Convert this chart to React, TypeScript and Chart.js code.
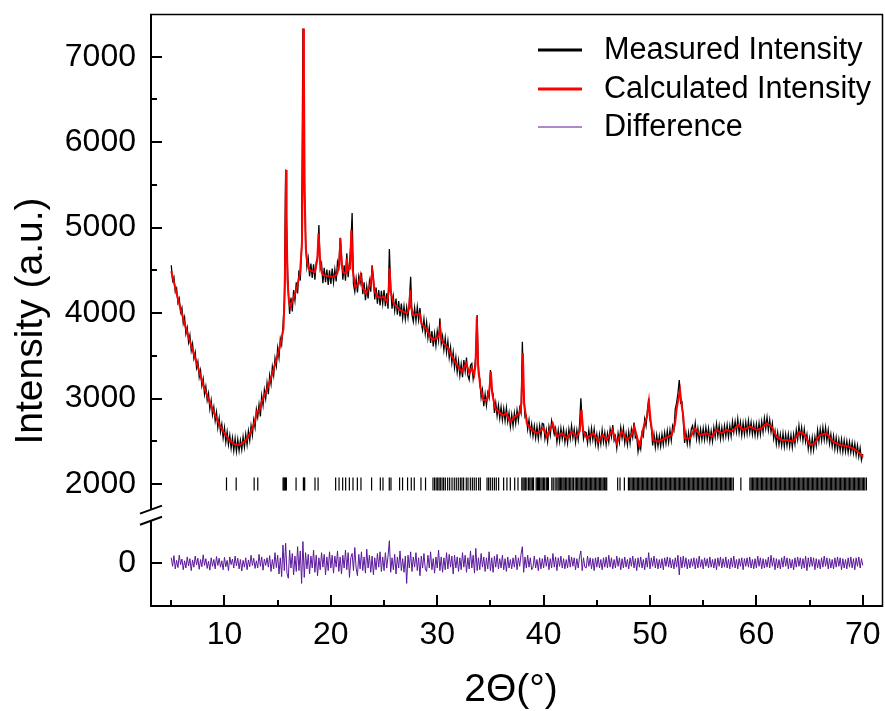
import React, { useEffect, useRef } from 'react';
import { Chart, registerables } from 'chart.js';

Chart.register(...registerables);

const FONT = '"Liberation Sans", Arial, Helvetica, sans-serif';

// ---- axis set-up (broken y axis: lower panel shows the difference curve, shifted) ----
const X_MIN = 3;
const X_MAX = 71.9;
const Y_MIN = 560;
const Y_MAX = 7500;
const DIFF_ZERO = 1076; // where "0" of the difference panel sits on the common y scale
const BREAK_UPPER = 1700; // upper axis segment ends here (data units)
const BREAK_LOWER = 1570; // lower axis segment starts here (data units)

const xMajorTicks = [10, 20, 30, 40, 50, 60, 70];
const xMinorTicks = [5, 15, 25, 35, 45, 55, 65];
const yMajorTicks = [2000, 3000, 4000, 5000, 6000, 7000];
const yMinorTicks = [2500, 3500, 4500, 5500, 6500];

const legendLabels = ['Measured Intensity', 'Calculated Intensity', 'Difference'];
const seriesColors = ['#000000', '#ff0000', '#5a189a'];

// ---- data ----
// measured intensity, sampled every 0.125 degrees from 5 degrees (one row per degree)
const MEAS_START = 5;
const MEAS_STEP = 0.125;
const measValues = [
  4560, 4380, 4420, 4250, 4290, 4120, 4170, 4010,
  4060, 3880, 3950, 3760, 3830, 3660, 3740, 3560,
  3640, 3470, 3540, 3360, 3430, 3250, 3330, 3150,
  3230, 3050, 3140, 2980, 3060, 2880, 2980, 2810,
  2900, 2740, 2840, 2660, 2770, 2610, 2700, 2540,
  2660, 2490, 2610, 2460, 2570, 2420, 2540, 2390,
  2530, 2380, 2520, 2390, 2510, 2400, 2550, 2430,
  2580, 2460, 2620, 2510, 2680, 2570, 2750, 2660,
  2870, 2780, 2930, 2790, 3030, 2920, 3100, 3000,
  3180, 3050, 3270, 3170, 3370, 3270, 3470, 3380,
  3590, 3480, 3700, 3630, 3850, 4150, 5680, 4750,
  4250, 3990, 4180, 4020, 4270, 4150, 4360, 4230,
  4500, 4380, 4780, 7330, 5600, 4830, 4540, 4640,
  4430, 4580, 4410, 4570, 4390, 4600, 4650, 5030,
  4520, 4580, 4350, 4530, 4360, 4510, 4330, 4500,
  4340, 4520, 4360, 4510, 4370, 4600, 4540, 4880,
  4680, 4390, 4560, 4380, 4700, 4420, 4590, 4800,
  5170, 4340, 4250, 4400, 4240, 4430, 4350, 4470,
  4220, 4360, 4150, 4310, 4170, 4370, 4250, 4560,
  4420, 4160, 4300, 4110, 4270, 4090, 4260, 4110,
  4270, 4080, 4230, 4050, 4750, 4300, 4050, 4190,
  4030, 4170, 3980, 4140, 3960, 4110, 3940, 4080,
  3930, 4070, 3950, 4120, 4425, 3980, 3900, 4060,
  3910, 4070, 3920, 4060, 3880, 3800, 3930, 3760,
  3890, 3710, 3830, 3650, 3790, 3610, 3760, 3620,
  3790, 3680, 3938, 3640, 3730, 3570, 3710, 3540,
  3670, 3480, 3600, 3420, 3540, 3360, 3480, 3310,
  3440, 3270, 3400, 3250, 3450, 3320, 3480, 3270,
  3220, 3390, 3410, 3230, 3340, 3500, 3977, 3280,
  3230, 3010, 3100, 2910, 3050, 2920, 3070, 3010,
  3333, 3080, 3060, 2830, 2950, 2800, 2920, 2770,
  2900, 2750, 2880, 2740, 2890, 2730, 2830, 2670,
  2810, 2680, 2830, 2710, 2860, 2740, 2890, 2830,
  3664, 3020, 2780, 2800, 2640, 2750, 2590, 2700,
  2560, 2680, 2540, 2670, 2530, 2680, 2560, 2710,
  2700, 2530, 2630, 2500, 2670, 2570, 2740, 2660,
  2580, 2650, 2490, 2630, 2500, 2650, 2530, 2640,
  2490, 2610, 2480, 2640, 2530, 2680, 2540, 2640,
  2490, 2630, 2520, 2690, 3002, 2720, 2530, 2610,
  2600, 2480, 2630, 2500, 2650, 2520, 2640, 2470,
  2580, 2440, 2580, 2470, 2630, 2490, 2600, 2460,
  2590, 2490, 2640, 2550, 2690, 2510, 2560, 2420,
  2590, 2490, 2660, 2540, 2650, 2480, 2590, 2460,
  2610, 2480, 2640, 2550, 2720, 2540, 2560, 2380,
  2480, 2410, 2600, 2560, 2760, 2680, 2860, 3002,
  2750, 2660, 2450, 2580, 2430, 2570, 2440, 2560,
  2440, 2580, 2460, 2600, 2480, 2620, 2490, 2630,
  2510, 2680, 2630, 2880, 2950, 3060, 3216, 2950,
  2960, 2740, 2480, 2600, 2470, 2600, 2470, 2640,
  2680, 2580, 2710, 2530, 2650, 2510, 2640, 2520,
  2650, 2520, 2660, 2530, 2650, 2500, 2620, 2500,
  2660, 2550, 2700, 2560, 2680, 2530, 2660, 2540,
  2680, 2560, 2690, 2550, 2680, 2560, 2730, 2610,
  2730, 2610, 2760, 2600, 2720, 2570, 2710, 2580,
  2720, 2590, 2740, 2600, 2720, 2580, 2700, 2570,
  2700, 2570, 2710, 2580, 2730, 2610, 2770, 2650,
  2780, 2630, 2750, 2610, 2710, 2530, 2620, 2470,
  2600, 2460, 2580, 2450, 2590, 2440, 2580, 2450,
  2580, 2440, 2570, 2430, 2580, 2470, 2630, 2520,
  2680, 2540, 2660, 2510, 2640, 2490, 2580, 2410,
  2530, 2390, 2540, 2400, 2550, 2450, 2630, 2500,
  2640, 2510, 2660, 2520, 2660, 2510, 2630, 2470,
  2580, 2440, 2560, 2410, 2540, 2400, 2520, 2390,
  2520, 2380, 2510, 2380, 2500, 2370, 2490, 2370,
  2480, 2360, 2470, 2340, 2450, 2320, 2420, 2280,
  2350,
];

const calculated: [number, number][] = [
  [5.0, 4490], [5.5, 4230], [6.0, 3990], [6.5, 3770], [7.0, 3570], [7.5, 3370], [8.0, 3160], [8.5, 2990],
  [9.0, 2840], [9.5, 2700], [10.0, 2590], [10.5, 2505], [11.0, 2460], [11.5, 2460], [12.0, 2510], [12.5, 2610],
  [12.85, 2730], [13.05, 2850], [13.25, 2850], [13.5, 2960], [14.0, 3110], [14.5, 3290], [15.0, 3510], [15.3, 3660],
  [15.55, 3820], [15.68, 4300], [15.75, 5200], [15.79, 5673], [15.84, 5100], [15.92, 4400], [16.05, 4150], [16.2, 4074],
  [16.5, 4180], [16.83, 4308], [17.1, 4464], [17.28, 4800], [17.36, 5600], [17.42, 7330], [17.47, 6800], [17.54, 5400],
  [17.65, 4750], [17.8, 4580], [18.0, 4503], [18.5, 4480], [18.72, 4620], [18.85, 4932], [18.98, 4620], [19.15, 4470],
  [19.3, 4444], [19.8, 4430], [20.26, 4425], [20.6, 4460], [20.78, 4560], [20.9, 4874], [21.02, 4560], [21.2, 4470],
  [21.4, 4464], [21.5, 4640], [21.6, 4500], [21.8, 4520], [21.93, 4971], [22.06, 4500], [22.3, 4308], [22.6, 4340],
  [22.8, 4444], [23.0, 4300], [23.3, 4230], [23.7, 4330], [23.9, 4483], [24.1, 4260], [24.4, 4190], [24.7, 4180],
  [24.96, 4191], [25.28, 4132], [25.44, 4250], [25.53, 4523], [25.63, 4250], [25.9, 4113], [26.5, 4035], [27.15, 3996],
  [27.36, 4060], [27.46, 4269], [27.56, 4060], [27.78, 3977], [28.1, 3985], [28.34, 3996], [28.56, 3860], [28.87, 3840],
  [29.34, 3723], [29.65, 3684], [30.05, 3720], [30.2, 3760], [30.28, 3821], [30.38, 3700], [30.6, 3645], [31.06, 3587],
  [31.22, 3528], [31.85, 3392], [32.32, 3313], [32.72, 3412], [33.04, 3294], [33.26, 3353], [33.47, 3275], [33.6, 3400],
  [33.72, 3957], [33.84, 3400], [34.04, 3138], [34.35, 2982], [34.67, 2982], [34.9, 3100], [35.04, 3313], [35.18, 3050],
  [35.45, 2885], [35.92, 2827], [36.2, 2800], [36.48, 2827], [36.85, 2729], [37.32, 2788], [37.73, 2827], [37.92, 2950],
  [38.05, 3528], [38.17, 2950], [38.42, 2710], [38.89, 2632], [39.36, 2593], [39.98, 2651], [40.3, 2553], [40.86, 2710],
  [41.24, 2553], [41.7, 2593], [42.18, 2535], [42.65, 2612], [43.1, 2553], [43.4, 2620], [43.56, 2866], [43.72, 2620],
  [44.06, 2535], [44.68, 2593], [45.15, 2495], [45.56, 2573], [45.93, 2515], [46.46, 2632], [46.87, 2475], [47.34, 2620],
  [47.81, 2515], [48.19, 2553], [48.53, 2670], [49.0, 2440], [49.44, 2690], [49.75, 2800], [49.9, 2963], [50.05, 2750],
  [50.31, 2515], [50.78, 2495], [51.41, 2535], [52.04, 2573], [52.35, 2700], [52.51, 2885], [52.82, 3099], [53.0, 2900],
  [53.13, 2788], [53.29, 2535], [53.76, 2535], [54.23, 2651], [54.7, 2573], [55.33, 2593], [55.8, 2553], [56.26, 2632],
  [56.73, 2593], [57.2, 2632], [57.67, 2612], [58.29, 2690], [58.76, 2632], [59.39, 2670], [60.02, 2632], [60.49, 2651],
  [60.96, 2710], [61.43, 2670], [61.9, 2553], [62.37, 2515], [62.84, 2515], [63.46, 2495], [64.08, 2612], [64.55, 2573],
  [65.02, 2456], [65.49, 2476], [65.96, 2573], [66.59, 2593], [67.21, 2495], [67.84, 2456], [68.47, 2444], [69.09, 2417],
  [69.56, 2378], [70.03, 2319],
];

// difference (measured - calculated), sampled every 0.125 degrees from 5 degrees (one row per degree)
const DIFF_START = 5;
const DIFF_STEP = 0.125;
const diffValues = [
  60, -40, 85, -70, 30, -55, 90, -20,
  45, -80, 25, -60, 70, -35, 50, -90,
  35, -50, 80, -25, 55, -75, 40, -45,
  95, -30, 50, -65, 20, -85, 60, -40,
  40, -70, 75, -30, 55, -50, 25, -80,
  65, -45, 30, -90, 70, -20, 45, -60,
  80, -35, 55, -70, 40, -95, 30, -50,
  60, -80, 35, -45, 90, -30, 55, -65,
  25, -60, 100, -40, 70, -85, 45, -30,
  60, -50, 85, -100, 40, -70, 120, -55,
  90, -130, 60, -160, 210, -90, 230, -120,
  -180, 150, -60, 110, -140, 80, -100, 190,
  -90, 140, -240, 250, -170, 120, -70, 100,
  -130, 80, -60, 150, -110, 90, -150, 60,
  -80, 120, -50, 100, -140, 70, -90, 130,
  -60, 90, -120, 80, -50, 140, -100, 70,
  -130, 90, -60, 150, -80, 120, -170, 60,
  110, -90, 180, -60, -150, 100, -70, 130,
  -90, 70, -120, 160, -60, 90, -110, 80,
  -140, 60, -80, 110, -50, 130, -100, 70,
  -90, 120, -60, 80, 260, -110, 60, -80,
  100, -130, 70, -60, 140, -90, 50, -110,
  80, -240, 90, -60, 130, -100, 70, -50,
  120, -90, 60, -150, 80, -60, 110, -70,
  -100, 90, -60, 130, -80, 50, -120, 70,
  -60, 150, -90, 70, -110, 60, -80, 120,
  -70, 100, -50, 80, -130, 90, -60, 70,
  -100, 60, -80, 120, -50, 90, -110, 60,
  -70, 140, -60, 90, -120, 170, -90, 60,
  -80, 110, -50, 70, -100, 60, -70, 130,
  -90, 60, -110, 80, -50, 100, -70, 50,
  -60, 90, -80, 50, -100, 70, -60, 40,
  -70, 60, -50, 90, -80, 60, -40, 100,
  190, -110, 70, -60, 90, -50, 60, -80,
  -50, 80, -60, 40, -90, 60, -70, 50,
  -60, 90, -40, 70, -80, 50, -60, 110,
  -50, 70, -90, 60, -40, 80, -60, 50,
  -70, 40, -60, 90, -50, 70, -40, 60,
  -80, 50, -60, 70, 140, -90, 60, -50,
  -60, 80, -40, 60, -70, 50, -90, 60,
  -50, 70, -60, 40, -80, 60, -50, 70,
  -60, 90, -50, 60, -70, 40, -60, 80,
  -40, 60, -80, 50, -60, 70, -50, 40,
  -70, 60, -40, 80, -60, 50, -90, 60,
  -50, 70, -60, 40, -80, 60, -50, 120,
  -70, 60, -40, 80, -60, 50, -70, 40,
  -60, 50, -80, 60, -40, 70, -50, 60,
  -60, 40, -70, 60, -50, 90, -140, 70,
  -60, 80, -50, 60, -70, 40, -60, 50,
  -40, 60, -70, 50, -60, 80, -50, 40,
  -70, 60, -40, 50, -60, 70, -50, 40,
  -60, 50, -80, 60, -40, 70, -60, 50,
  -50, 70, -60, 40, -70, 60, -50, 80,
  -60, 40, -70, 50, -40, 60, -80, 50,
  -40, 60, -50, 70, -60, 40, -70, 50,
  -60, 80, -40, 60, -70, 50, -60, 40,
  -50, 70, -60, 90, -40, 60, -80, 50,
  -60, 40, -70, 60, -50, 80, -40, 60,
  -70, 50, -60, 40, -80, 60, -50, 70,
  -40, 60, -70, 50, -60, 80, -90, 60,
  -50, 70, -40, 60, -80, 50, -60, 40,
  -70, 60, -50, 80, -40, 60, -70, 50,
  -60, 40, -70, 60, -50, 70, -40, 60,
  -80, 50, -60, 40, -70, 60, -50, 70,
  -60, 50, -80, 60, -40, 70, -60, 50,
  -30,
];

// Bragg reflection positions (2theta, degrees)
const BRAGG_LEVEL = 2000;
const braggPositions = [
  10.19, 11.1, 12.79, 13.13, 15.51, 15.58, 15.66, 15.74, 15.82, 16.73, 17.42, 17.48, 17.54, 18.51, 18.8,
  20.45, 20.77, 21.11, 21.39, 21.74, 22.08, 22.49, 22.83, 23.83, 24.65, 24.9, 25.49, 25.65, 26.46, 26.74,
  27.21, 27.56, 27.84, 28.47, 28.9,
  29.6, 29.75, 29.9, 30.04, 30.17, 30.29, 30.45, 30.6, 30.76, 30.98, 31.17, 31.39, 31.6, 31.79, 31.98,
  32.17, 32.32, 32.48, 32.73, 32.89, 33.11, 33.3, 33.48, 33.67, 33.89, 34.05,
  34.68, 34.83, 34.99, 35.18, 35.37, 35.55, 35.77,
  36.24, 36.55, 36.87, 37.28, 37.59,
  37.95, 38.06, 38.17, 38.28, 38.42, 38.58, 38.7, 38.82, 38.94, 39.05, 39.3, 39.42, 39.52, 39.6,
  39.74, 39.86, 39.98, 40.1, 40.25, 40.36, 40.45, 40.77, 40.9, 41.08,
  41.24, 41.36, 41.47, 41.58, 41.7, 41.82, 41.93, 42.05, 42.17, 42.3, 42.42, 42.55, 42.68, 42.8,
  42.96, 43.08, 43.2, 43.32, 43.44, 43.56, 43.68, 43.8, 43.92, 44.04, 44.16, 44.28, 44.4, 44.52, 44.64,
  44.76, 44.88, 45.0, 45.12, 45.24, 45.36, 45.48, 45.6, 45.72, 45.84, 45.93,
  46.96, 47.18, 47.59,
  47.97, 48.09, 48.21, 48.33, 48.45, 48.57, 48.69, 48.81, 48.93, 49.05, 49.17, 49.29, 49.41, 49.53, 49.65,
  49.77, 49.89, 50.01, 50.13, 50.25, 50.37, 50.49, 50.61, 50.73, 50.85, 50.97, 51.09, 51.21, 51.33, 51.45,
  51.57, 51.69, 51.81, 51.93, 52.05, 52.17, 52.29, 52.41, 52.53, 52.65, 52.77, 52.89, 53.01, 53.13, 53.25,
  53.37, 53.49, 53.61, 53.73, 53.85, 53.97, 54.09, 54.21, 54.33, 54.45, 54.57, 54.69, 54.81, 54.93, 55.05,
  55.17, 55.29, 55.41, 55.53, 55.65, 55.77, 55.89, 56.01, 56.13, 56.25, 56.37, 56.49, 56.61, 56.73, 56.85,
  56.97, 57.09, 57.21, 57.33, 57.45, 57.57, 57.69, 57.83,
  58.54,
  59.39, 59.51, 59.63, 59.75, 59.87, 59.99, 60.11, 60.23, 60.35, 60.47, 60.59, 60.71, 60.83, 60.95, 61.07,
  61.19, 61.31, 61.43, 61.55, 61.67, 61.79, 61.91, 62.03, 62.15, 62.27, 62.39, 62.51, 62.63, 62.75, 62.87,
  62.99, 63.11, 63.23, 63.35, 63.47, 63.59, 63.71, 63.83, 63.95, 64.07, 64.19, 64.31, 64.43, 64.55, 64.67,
  64.79, 64.91, 65.03, 65.15, 65.27, 65.39, 65.51, 65.63, 65.75, 65.87, 65.99, 66.11, 66.23, 66.35, 66.47,
  66.59, 66.71, 66.83, 66.95, 67.07, 67.19, 67.31, 67.43, 67.55, 67.67, 67.79, 67.91, 68.03, 68.15, 68.27,
  68.39, 68.51, 68.63, 68.75, 68.87, 68.99, 69.11, 69.23, 69.35, 69.47, 69.59, 69.71, 69.83, 69.95, 70.07,
  70.19, 70.34,
];

const decorPlugin = {
  id: 'decor',
  afterDraw(chart: any) {
    const { ctx, chartArea, scales } = chart;
    const { left, right, top, bottom } = chartArea;
    const xs = scales.x;
    const ys = scales.y;
    ctx.save();
    ctx.strokeStyle = '#000';
    ctx.lineCap = 'butt';

    const seg = (x1: number, y1: number, x2: number, y2: number, w: number) => {
      ctx.lineWidth = w;
      ctx.beginPath();
      ctx.moveTo(x1, y1);
      ctx.lineTo(x2, y2);
      ctx.stroke();
    };

    // frame
    seg(left, top + 0.5, right, top + 0.5, 1.5);
    seg(right - 0.5, top, right - 0.5, bottom, 1.5);
    seg(left, bottom - 1, right, bottom - 1, 2);
    const ax = left + 1;
    const yBreakUp = ys.getPixelForValue(BREAK_UPPER);
    const yBreakLo = ys.getPixelForValue(BREAK_LOWER);
    seg(ax, top, ax, yBreakUp, 2);
    seg(ax, yBreakLo, ax, bottom, 2);
    // break marks
    seg(ax - 11, yBreakUp + 4, ax + 11, yBreakUp - 4, 2);
    seg(ax - 11, yBreakLo + 4, ax + 11, yBreakLo - 4, 2);

    // inward ticks
    for (const v of [DIFF_ZERO, ...yMajorTicks]) {
      const py = Math.round(ys.getPixelForValue(v));
      seg(ax, py, ax + 11, py, 2);
    }
    for (const v of yMinorTicks) {
      const py = Math.round(ys.getPixelForValue(v));
      seg(ax, py, ax + 6, py, 2);
    }
    for (const v of xMajorTicks) {
      const px = Math.round(xs.getPixelForValue(v));
      seg(px, bottom - 1, px, bottom - 12, 2);
    }
    for (const v of xMinorTicks) {
      const px = Math.round(xs.getPixelForValue(v));
      seg(px, bottom - 1, px, bottom - 7, 2);
    }

    // axis titles
    ctx.fillStyle = '#000';
    ctx.font = `39px ${FONT}`;
    ctx.textAlign = 'center';
    ctx.textBaseline = 'middle';
    ctx.save();
    ctx.translate(31, 321);
    ctx.rotate(-Math.PI / 2);
    ctx.fillText('Intensity (a.u.)', 0, 0);
    ctx.restore();
    ctx.fillText('2\u0398(\u00b0)', 511, 690);

    // legend
    const legendY = [50, 89, 127];
    const legendW = [3, 3, 1.2];
    ctx.font = `30.6px ${FONT}`;
    ctx.textAlign = 'left';
    legendLabels.forEach((label, i) => {
      ctx.strokeStyle = seriesColors[i];
      seg(538, legendY[i], 582, legendY[i], legendW[i]);
      ctx.fillStyle = '#000';
      ctx.fillText(label, 604, legendY[i] + 1);
    });
    ctx.restore();
  },
};

export default function App() {
  const ref = useRef<HTMLCanvasElement>(null);

  useEffect(() => {
    const canvas = ref.current;
    if (!canvas) return;
    const chart = new Chart(canvas, {
      type: 'line',
      data: {
        datasets: [
          {
            label: legendLabels[1],
            data: calculated.map(([x, y]) => ({ x, y })),
            borderColor: seriesColors[1],
            borderWidth: 2,
            pointRadius: 0,
            tension: 0,
            order: 1,
          },
          {
            label: legendLabels[0],
            data: measValues.map((y, i) => ({ x: MEAS_START + i * MEAS_STEP, y })),
            borderColor: seriesColors[0],
            borderWidth: 1.3,
            pointRadius: 0,
            tension: 0,
            order: 2,
          },
          {
            label: legendLabels[2],
            data: diffValues.map((v, i) => ({ x: DIFF_START + i * DIFF_STEP, y: v + DIFF_ZERO })),
            borderColor: seriesColors[2],
            borderWidth: 1,
            pointRadius: 0,
            tension: 0,
            order: 3,
          },
          {
            type: 'scatter',
            label: 'Bragg positions',
            data: braggPositions.map((x) => ({ x, y: BRAGG_LEVEL })),
            showLine: false,
            pointStyle: 'line',
            rotation: 90,
            pointRadius: 6.5,
            borderColor: '#000',
            backgroundColor: '#000',
            borderWidth: 1.2,
            order: 4,
          } as any,
        ],
      },
      options: {
        animation: false,
        responsive: false,
        maintainAspectRatio: false,
        events: [],
        layout: { autoPadding: false, padding: { top: 14, right: 2, left: 0, bottom: 0 } },
        plugins: {
          legend: { display: false },
          tooltip: { enabled: false },
        },
        scales: {
          x: {
            type: 'linear',
            min: X_MIN,
            max: X_MAX,
            afterBuildTicks: (scale: any) => {
              scale.ticks = xMajorTicks.map((value) => ({ value }));
            },
            afterFit: (scale: any) => {
              scale.height = 104;
              scale.paddingLeft = 0;
              scale.paddingRight = 0;
            },
            ticks: {
              autoSkip: false,
              maxRotation: 0,
              padding: 9,
              color: '#000',
              font: { family: FONT, size: 32 },
              callback: (v: any) => String(v),
            },
            grid: { display: false, drawTicks: false },
            border: { display: false },
          },
          y: {
            type: 'linear',
            min: Y_MIN,
            max: Y_MAX,
            afterBuildTicks: (scale: any) => {
              scale.ticks = [DIFF_ZERO, ...yMajorTicks].map((value) => ({ value }));
            },
            afterFit: (scale: any) => {
              scale.width = 150;
              scale.paddingTop = 0;
              scale.paddingBottom = 0;
            },
            ticks: {
              autoSkip: false,
              padding: 14,
              color: '#000',
              font: { family: FONT, size: 32 },
              callback: (v: any) => (v === DIFF_ZERO ? '0' : String(v)),
            },
            grid: { display: false, drawTicks: false },
            border: { display: false },
          },
        },
      },
      plugins: [decorPlugin],
    } as any);
    return () => chart.destroy();
  }, []);

  return (
    <div style={{ position: 'absolute', left: 0, top: 0, width: 885, height: 711, background: '#fff' }}>
      <canvas ref={ref} width={885} height={711} style={{ display: 'block', width: 885, height: 711 }} />
    </div>
  );
}
